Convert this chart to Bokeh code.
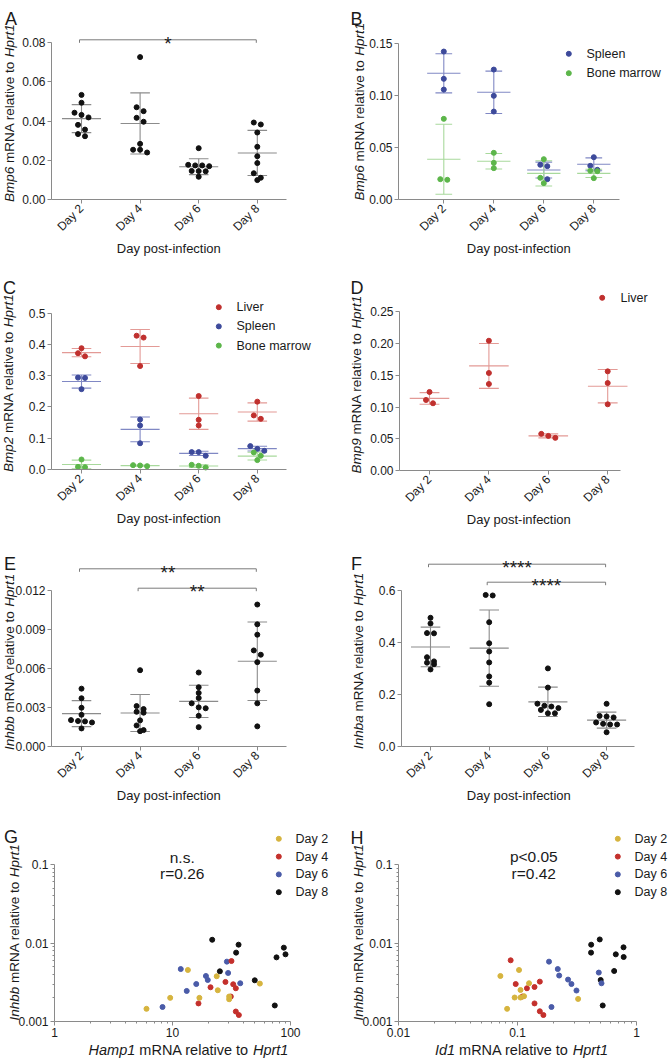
import math
import numpy as np
from bokeh.plotting import figure
from bokeh.models import Range1d, FixedTicker, Label
from bokeh.layouts import column, row
from bokeh.embed import file_html
from bokeh.resources import INLINE

# ---------------------------------------------------------------- data
days = ["Day 2", "Day 4", "Day 6", "Day 8"]
x_title = "Day post-infection"

# A  Bmp6 (liver)
bmp6_liver = [
    [0.0534, 0.0494, 0.0443, 0.0432, 0.0419, 0.0381, 0.0357, 0.0334, 0.0323],
    [0.0727, 0.0471, 0.0451, 0.0417, 0.0397, 0.0284, 0.0254, 0.0254, 0.0240],
    [0.0262, 0.0177, 0.0174, 0.0174, 0.0170, 0.0146, 0.0145, 0.0144, 0.0116],
    [0.0393, 0.0383, 0.0342, 0.0269, 0.0221, 0.0186, 0.0134, 0.0111, 0.0099],
]
a_sig = [(0, 3, "*")]

# B  Bmp6 (spleen, bone marrow)
bmp6_spleen = [[0.1420, 0.1158, 0.1055], [0.1247, 0.0995, 0.0844],
               [0.0333, 0.0320, 0.0195], [0.0406, 0.0323, 0.0285]]
bmp6_bm = [[0.0774, 0.0195, 0.0189], [0.0448, 0.0352, 0.0301],
           [0.0387, 0.0208, 0.0157], [0.0275, 0.0272, 0.0205]]

# C  Bmp2
bmp2_liver = [[0.388, 0.372, 0.362], [0.428, 0.422, 0.331],
              [0.235, 0.159, 0.141], [0.217, 0.173, 0.162]]
bmp2_spleen = [[0.294, 0.293, 0.257], [0.160, 0.141, 0.084],
               [0.0556, 0.0556, 0.0438], [0.0748, 0.0660, 0.0598]]
bmp2_bm = [[0.0320, 0.0085, 0.0075], [0.0139, 0.0128, 0.0107],
           [0.0150, 0.0118, 0.0064], [0.0545, 0.0438, 0.0300]]

# D  Bmp9 (liver)
bmp9_liver = [[0.1237, 0.1111, 0.1059], [0.2044, 0.1536, 0.1363],
              [0.0577, 0.0545, 0.0514], [0.1562, 0.1378, 0.1043]]

# E  Inhbb (liver)
inhbb_liver = [
    [0.00445, 0.00371, 0.00298, 0.00244, 0.00203, 0.00196, 0.00193, 0.00185, 0.00139],
    [0.00587, 0.00311, 0.00288, 0.00267, 0.00260, 0.00201, 0.00162, 0.00126, 0.00118],
    [0.00569, 0.00456, 0.00412, 0.00373, 0.00332, 0.00301, 0.00294, 0.00236, 0.00149],
    [0.01092, 0.00940, 0.00860, 0.00739, 0.00706, 0.00649, 0.00430, 0.00332, 0.00155],
]
e_sig = [(0, 3, "**"), (1, 3, "**")]

# F  Inhba (liver)
inhba_liver = [
    [0.496, 0.474, 0.437, 0.436, 0.344, 0.328, 0.323, 0.317, 0.297],
    [0.584, 0.582, 0.479, 0.398, 0.366, 0.324, 0.270, 0.246, 0.163],
    [0.301, 0.227, 0.165, 0.157, 0.154, 0.148, 0.141, 0.128, 0.128],
    [0.1645, 0.118, 0.1156, 0.112, 0.0925, 0.0874, 0.0848, 0.0848, 0.055],
]
f_sig = [(0, 3, "****"), (1, 3, "****")]

# G  Hamp1 vs Inhbb
g_hamp1 = [
    [6.02, 9.56, 13.5, 16.9, 23.7, 24.2, 30.2, 30.2, 55.0],
    [31.6, 28.1, 21.0, 32.7, 34.4, 31.2, 16.6, 34.4, 36.5],
    [11.75, 28.9, 29.6, 19.2, 19.9, 15.9, 37.5, 13.2, 8.23],
    [21.7, 36.3, 34.6, 87.8, 90.7, 76.1, 25.2, 49.8, 73.6],
]
g_inhbb = [
    [0.00145, 0.00200, 0.00453, 0.00200, 0.00377, 0.00250, 0.00208, 0.00192, 0.00304],
    [0.00589, 0.00319, 0.00273, 0.00298, 0.00265, 0.00208, 0.00170, 0.00134, 0.00121],
    [0.00466, 0.00579, 0.00415, 0.00380, 0.00338, 0.00300, 0.00307, 0.00245, 0.00153],
    [0.01100, 0.00952, 0.00754, 0.00872, 0.00717, 0.00656, 0.00436, 0.00335, 0.00160],
]
g_stats = ["n.s.", "r=0.26"]

# H  Id1 vs Inhbb
h_id1 = [
    [0.0718, 0.103, 0.125, 0.106, 0.0946, 0.106, 0.1135, 0.0818, 0.323],
    [0.0876, 0.0966, 0.154, 0.120, 0.139, 0.139, 0.154, 0.165, 0.110],
    [0.184, 0.218, 0.224, 0.266, 0.284, 0.313, 0.482, 0.508, 0.193],
    [0.416, 0.491, 0.415, 0.778, 0.670, 0.780, 0.649, 0.500, 0.520],
]
h_inhbb = [
    [0.00380, 0.00453, 0.00307, 0.00252, 0.00202, 0.00202, 0.00210, 0.00145, 0.00194],
    [0.00602, 0.00300, 0.00322, 0.00265, 0.00275, 0.00170, 0.00135, 0.00121, 0.00208],
    [0.00579, 0.00466, 0.00385, 0.00342, 0.00300, 0.00248, 0.00420, 0.00307, 0.00153],
    [0.00952, 0.01110, 0.00754, 0.00881, 0.00717, 0.00663, 0.00440, 0.00338, 0.00160],
]
h_stats = ["p<0.05", "r=0.42"]

# tick values / labels
a_yticks, a_ylabels = [0, 0.02, 0.04, 0.06, 0.08], ["0.00", "0.02", "0.04", "0.06", "0.08"]
b_yticks, b_ylabels = [0, 0.05, 0.10, 0.15], ["0.00", "0.05", "0.10", "0.15"]
c_yticks, c_ylabels = [0, 0.1, 0.2, 0.3, 0.4, 0.5], ["0.0", "0.1", "0.2", "0.3", "0.4", "0.5"]
d_yticks, d_ylabels = [0, 0.05, 0.10, 0.15, 0.20, 0.25], ["0.00", "0.05", "0.10", "0.15", "0.20", "0.25"]
e_yticks, e_ylabels = [0, 0.003, 0.006, 0.009, 0.012], ["0.000", "0.003", "0.006", "0.009", "0.012"]
f_yticks, f_ylabels = [0, 0.2, 0.4, 0.6], ["0.0", "0.2", "0.4", "0.6"]
g_xticks, g_xlabels = [1, 10, 100], ["1", "10", "100"]
h_xticks, h_xlabels = [0.01, 0.1, 1], ["0.01", "0.1", "1"]
gh_yticks, gh_ylabels = [0.001, 0.01, 0.1], ["0.001", "0.01", "0.1"]

day_ticks = [0, 1, 2, 3]

# titles (italic flag per word group)
a_ytitle = [("Bmp6", True), ("mRNA relative to", False), ("Hprt1", True)]
c_ytitle = [("Bmp2", True), ("mRNA relative to", False), ("Hprt1", True)]
d_ytitle = [("Bmp9", True), ("mRNA relative to", False), ("Hprt1", True)]
e_ytitle = [("Inhbb", True), ("mRNA relative to", False), ("Hprt1", True)]
f_ytitle = [("Inhba", True), ("mRNA relative to", False), ("Hprt1", True)]
g_xtitle = [("Hamp1", True), ("mRNA relative to", False), ("Hprt1", True)]
h_xtitle = [("Id1", True), ("mRNA relative to", False), ("Hprt1", True)]

# ---------------------------------------------------------------- style
FONT = "Liberation Sans"
TEXT = "#1a1a1a"
AXIS = "#8a8a8a"
BLACK = ("#111111", "#8c8c8c")
LIVER = ("#c0302e", "#e39a96")
SPLEEN = ("#3d4a9b", "#8088c4")
BM = ("#5cb64a", "#a8d99c")
DAY_COLORS = ["#d6b43e", "#c4302c", "#4a5ba8", "#111111"]

W = {' ': 278, '-': 333, '.': 278, '<': 584, '=': 584, '*': 389,
     'A': 667, 'B': 667, 'D': 722, 'H': 722, 'I': 278, 'N': 722, 'R': 722, 'L': 556, 'S': 667,
     'a': 556, 'b': 556, 'c': 500, 'd': 556, 'e': 556, 'f': 278, 'g': 556, 'h': 556, 'i': 222,
     'k': 500, 'l': 222, 'm': 833, 'n': 556, 'o': 556, 'p': 556, 'r': 333, 's': 500, 't': 278,
     'v': 500, 'w': 722, 'y': 500}


def text_w(s, size):
    return sum(W.get(ch, 556) for ch in s) * size / 1000.0


class Map:
    """page-pixel <-> data mapping defined by two reference points"""
    def __init__(self, p0, v0, p1, v1, log=False):
        self.log = log
        f = math.log10 if log else (lambda v: v)
        self.p0, self.p1 = p0, p1
        self.t0, self.t1 = f(v0), f(v1)

    def data(self, px):
        t = self.t0 + (px - self.p0) * (self.t1 - self.t0) / (self.p1 - self.p0)
        return 10 ** t if self.log else t

    def px(self, v):
        t = math.log10(v) if self.log else v
        return self.p0 + (t - self.t0) * (self.p1 - self.p0) / (self.t1 - self.t0)


class Panel:
    def __init__(self, left, top, w, h, X, Y, ax_left, ax_bottom):
        self.X, self.Y = X, Y
        self.ax_left, self.ax_bottom = ax_left, ax_bottom
        p = figure(width=w, height=h,
                   x_range=Range1d(X.data(left), X.data(left + w)),
                   y_range=Range1d(Y.data(top + h), Y.data(top)),
                   x_axis_type="log" if X.log else "linear",
                   y_axis_type="log" if Y.log else "linear",
                   output_backend="svg", toolbar_location=None,
                   min_border_left=0, min_border_right=0,
                   min_border_top=0, min_border_bottom=0)
        p.grid.visible = False
        p.outline_line_color = None
        p.background_fill_color = "white"
        p.border_fill_color = "white"
        self.p = p

    def label(self, px, py, text, size, **kw):
        self.p.add_layout(Label(x=self.X.data(px), y=self.Y.data(py),
                                x_units="data", y_units="data", text=text,
                                text_font=FONT, text_font_size="%.2fpx" % size,
                                text_color=TEXT, **kw))


def style_axes(P, xt, xl, yt, yl, xright_px, ytop_val, rot=False, xminor=(), yminor=()):
    p = P.p
    xa, ya = p.xaxis[0], p.yaxis[0]
    xa.fixed_location = P.Y.data(P.ax_bottom)
    ya.fixed_location = P.X.data(P.ax_left)
    xa.bounds = (P.X.data(P.ax_left), P.X.data(xright_px))
    ya.bounds = (P.Y.data(P.ax_bottom), ytop_val)
    for ax, ticks, labels, minor in ((xa, xt, xl, xminor), (ya, yt, yl, yminor)):
        ax.ticker = FixedTicker(ticks=list(ticks), minor_ticks=list(minor))
        ax.major_label_overrides = dict(zip(ticks, labels))
        ax.axis_line_color = AXIS
        ax.axis_line_width = 1
        ax.major_tick_line_color = AXIS
        ax.major_tick_out = 4
        ax.major_tick_in = 0
        ax.minor_tick_line_color = AXIS
        ax.minor_tick_out = 2
        ax.minor_tick_in = 0
        ax.major_label_text_font = FONT
        ax.major_label_text_font_size = "12px"
        ax.major_label_text_color = TEXT
        ax.major_label_standoff = 2
    if rot:
        xa.major_label_orientation = math.pi / 4
        xa.major_label_standoff = 3


def rich(P, pieces, size, apx, apy, vertical):
    ws = [text_w(t, size) for t, _ in pieces]
    sp = text_w(" ", size)
    total = sum(ws) + sp * (len(pieces) - 1)
    if vertical:
        pos = apy
        for (t, it), w in zip(pieces, ws):
            P.label(apx, pos, t, size, angle=math.pi / 2, text_align="left",
                    text_baseline="middle", text_font_style="italic" if it else "normal")
            pos -= w + sp
    else:
        pos = apx - total / 2
        for (t, it), w in zip(pieces, ws):
            P.label(pos, apy, t, size, text_align="left", text_baseline="middle",
                    text_font_style="italic" if it else "normal")
            pos += w + sp


def letter(P, txt, px, base):
    P.label(px, base, txt, 18, text_align="left", text_baseline="alphabetic")


ROW_T = 5.0
SPACING = 7.0
MEAN_HALF = 0.333
CAP_HALF = 0.167


def swarm_column(P, c, values):
    cx = P.X.px(c)
    items = sorted(values, key=lambda it: P.Y.px(it[1]))
    rows = []
    for it in items:
        if rows and P.Y.px(it[1]) - P.Y.px(rows[-1][0][1]) < ROW_T:
            rows[-1].append(it)
        else:
            rows.append([it])
    out = []
    for r in rows:
        n = len(r)
        for k, it in enumerate(r):
            out.append((it[0], P.X.data(cx + (k - (n - 1) / 2.0) * SPACING), it[1]))
    return out


def dot_panel(P, groups):
    for vals, (pc, lc) in groups:
        x0, y0, x1, y1 = [], [], [], []
        for c, v in enumerate(vals):
            m = float(np.mean(v))
            s = float(np.std(v, ddof=1))
            x0 += [c - MEAN_HALF, c, c - CAP_HALF, c - CAP_HALF]
            x1 += [c + MEAN_HALF, c, c + CAP_HALF, c + CAP_HALF]
            y0 += [m, m - s, m + s, m - s]
            y1 += [m, m + s, m + s, m - s]
        P.p.segment(x0=x0, y0=y0, x1=x1, y1=y1, line_color=lc, line_width=1.1)
    pts = {g: ([], []) for g in range(len(groups))}
    for c in range(len(days)):
        col = [(g, v) for g, (vals, _) in enumerate(groups) for v in vals[c]]
        for g, x, y in swarm_column(P, c, col):
            pts[g][0].append(x)
            pts[g][1].append(y)
    for g, (vals, (pc, lc)) in enumerate(groups):
        P.p.scatter(pts[g][0], pts[g][1], size=5, fill_color=pc, line_color=pc)


def sig_bars(P, sigs, bar_ys):
    for (i, j, txt), ypx in zip(sigs, bar_ys):
        lpx = P.X.px(i) - 2
        rpx = P.X.px(j) - 1
        xl, xr = P.X.data(lpx), P.X.data(rpx)
        yb, yt = P.Y.data(ypx), P.Y.data(ypx + 3)
        P.p.segment(x0=[xl, xl, xr], y0=[yb, yb, yb], x1=[xr, xl, xr], y1=[yb, yt, yt],
                    line_color="#7a7a7a", line_width=1)
        size = 19
        P.label((lpx + rpx) / 2, ypx - 7.2 + 0.575 * size, txt, size,
                text_align="center", text_baseline="alphabetic")


def legend(P, names, colors, dot_px, text_px, y0, pitch, size=12.5):
    for k, (n, c) in enumerate(zip(names, colors)):
        py = y0 + k * pitch
        P.p.scatter([P.X.data(dot_px)], [P.Y.data(py)], size=5, fill_color=c, line_color=c)
        P.label(text_px, py, n, size, text_align="left", text_baseline="middle")


YT = 13.5    # y title font
XT = 13      # x title font
LW, RW = 334, 334

# ---------------------------------------------------------------- A
A = Panel(0, 0, LW, 259, Map(81, 0, 139.6, 1), Map(199, 0, 42.3, 0.08), 51, 199)
style_axes(A, day_ticks, days, a_yticks, a_ylabels, 286, a_yticks[-1], rot=True)
dot_panel(A, [(bmp6_liver, BLACK)])
sig_bars(A, a_sig, [39.3])
letter(A, "A", 4.5, 18.3)
rich(A, a_ytitle, YT, 8.7, 201.5, True)
A.label(168.3, 248, x_title, XT, text_align="center", text_baseline="middle")

# ---------------------------------------------------------------- B
B = Panel(334, 0, RW, 259, Map(443.3, 0, 493.3, 1), Map(199, 0, 42.7, 0.15), 398, 199)
style_axes(B, day_ticks, days, b_yticks, b_ylabels, 619.3, b_yticks[-1], rot=True)
dot_panel(B, [(bmp6_spleen, SPLEEN), (bmp6_bm, BM)])
legend(B, ["Spleen", "Bone marrow"], [SPLEEN[0], BM[0]], 568.3, 586, 53.3, 19.4)
letter(B, "B", 350, 18.3)
rich(B, a_ytitle, YT, 359.3, 200, True)
B.label(518.3, 248.3, x_title, XT, text_align="center", text_baseline="middle")

# ---------------------------------------------------------------- C
C = Panel(0, 259, LW, 269, Map(81, 0, 139.6, 1), Map(469, 0, 312.7, 0.5), 51, 469)
style_axes(C, day_ticks, days, c_yticks, c_ylabels, 286, c_yticks[-1], rot=True)
dot_panel(C, [(bmp2_liver, LIVER), (bmp2_spleen, SPLEEN), (bmp2_bm, BM)])
legend(C, ["Liver", "Spleen", "Bone marrow"], [LIVER[0], SPLEEN[0], BM[0]], 218.3, 236, 306.7, 19.2)
letter(C, "C", 2.5, 287)
rich(C, c_ytitle, YT, 8.3, 471.5, True)
C.label(168.3, 518, x_title, XT, text_align="center", text_baseline="middle")

# ---------------------------------------------------------------- D
D = Panel(334, 259, RW, 269, Map(429, 0, 488.4, 1), Map(470, 0, 311.3, 0.25), 399, 470)
style_axes(D, day_ticks, days, d_yticks, d_ylabels, 620, d_yticks[-1], rot=True)
dot_panel(D, [(bmp9_liver, LIVER)])
legend(D, ["Liver"], [LIVER[0]], 601.7, 620, 297.3, 19.2)
letter(D, "D", 350, 287.5)
rich(D, d_ytitle, YT, 355.5, 473, True)
D.label(518.3, 519, x_title, XT, text_align="center", text_baseline="middle")

# ---------------------------------------------------------------- E
E = Panel(0, 528, LW, 275, Map(81, 0, 139.6, 1), Map(746, 0, 590, 0.012), 51, 746)
style_axes(E, day_ticks, days, e_yticks, e_ylabels, 286, e_yticks[-1], rot=True)
dot_panel(E, [(inhbb_liver, BLACK)])
sig_bars(E, e_sig, [568.3, 587.7])
letter(E, "E", 3.5, 563.3)
rich(E, e_ytitle, YT, 8.5, 749.5, True)
E.label(168.3, 795, x_title, XT, text_align="center", text_baseline="middle")

# ---------------------------------------------------------------- F
F = Panel(334, 528, RW, 275, Map(430, 0, 488.7, 1), Map(746, 0, 590.3, 0.6), 401, 746)
style_axes(F, day_ticks, days, f_yticks, f_ylabels, 634, f_yticks[-1], rot=True)
dot_panel(F, [(inhba_liver, BLACK)])
sig_bars(F, f_sig, [563.7, 581.7])
letter(F, "F", 350.5, 563.3)
rich(F, f_ytitle, YT, 358.3, 748.5, True)
F.label(518.3, 795, x_title, XT, text_align="center", text_baseline="middle")

# ---------------------------------------------------------------- G / H
def minor_ticks(lo_exp, hi_exp):
    return [m * 10.0 ** e for e in range(lo_exp, hi_exp) for m in range(2, 10)]


def scatter_panel(P, xs, ys):
    for k in reversed(range(len(days))):
        P.p.scatter(xs[k], ys[k], size=5, fill_color=DAY_COLORS[k], line_color=DAY_COLORS[k])


G = Panel(0, 803, LW, 255, Map(54, 1, 290, 100, log=True),
          Map(1021, 0.001, 864, 0.1, log=True), 54, 1021)
style_axes(G, g_xticks, g_xlabels, gh_yticks, gh_ylabels, 290, gh_yticks[-1],
           xminor=minor_ticks(0, 2), yminor=minor_ticks(-3, -1))
scatter_panel(G, g_hamp1, g_inhbb)
legend(G, days, DAY_COLORS, 278.3, 295, 838.3, 17.8)
G.label(181.7, 857, g_stats[0], 15.5, text_align="center", text_baseline="middle")
G.label(181.7, 872.5, g_stats[1], 15.5, text_align="center", text_baseline="middle")
letter(G, "G", 3.5, 836.7)
rich(G, e_ytitle, YT, 13.8, 1020, True)
rich(G, g_xtitle, 14.5, 188, 1049.5, False)

H = Panel(334, 803, RW, 255, Map(398, 0.01, 636, 1, log=True),
          Map(1021, 0.001, 864, 0.1, log=True), 398, 1021)
style_axes(H, h_xticks, h_xlabels, gh_yticks, gh_ylabels, 636, gh_yticks[-1],
           xminor=minor_ticks(-2, 0), yminor=minor_ticks(-3, -1))
scatter_panel(H, h_id1, h_inhbb)
legend(H, days, DAY_COLORS, 617.3, 634, 838.3, 17.8)
H.label(533.3, 855.5, h_stats[0], 15.5, text_align="center", text_baseline="middle")
H.label(533.3, 872.5, h_stats[1], 15.5, text_align="center", text_baseline="middle")
letter(H, "H", 350, 837)
rich(H, e_ytitle, YT, 358.3, 1020, True)
rich(H, h_xtitle, 14.5, 521, 1049.5, False)

layout = column(row(A.p, B.p), row(C.p, D.p), row(E.p, F.p), row(G.p, H.p))
open("out.html", "w").write(file_html(layout, INLINE))
